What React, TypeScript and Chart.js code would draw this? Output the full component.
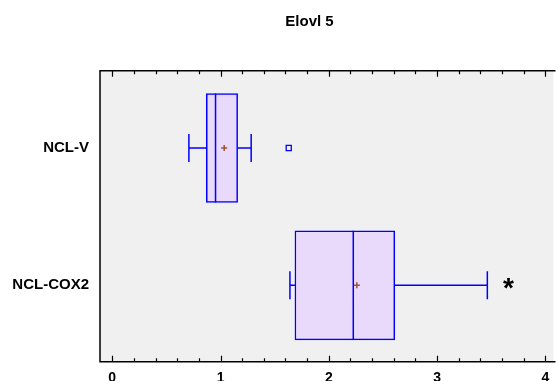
import React, { useEffect, useRef } from "react";
import { Chart, registerables } from "chart.js";

Chart.register(...registerables);

// ---- data ----
const title = "Elovl 5";
const categories = ["NCL-V", "NCL-COX2"];
const whiskerLow = [0.708, 1.641];
const q1 = [0.869, 1.687];
const median = [0.954, 2.226];
const q3 = [1.158, 2.609];
const whiskerHigh = [1.283, 3.464];
const means = [1.034, 2.259];
const outlierCat = [0];
const outlierValue = [1.63];
const farOutlierCat = [1];
const farOutlierValue = [3.66];
const xTicks = [0, 1, 2, 3, 4];
const xMinorStep = 0.2;

const BLUE = "#0000ff";
const FONT = "'Liberation Sans', Arial, sans-serif";

const boxPlugin = {
  id: "boxExtras",
  beforeDraw(chart: any) {
    const { ctx, chartArea: a } = chart;
    ctx.save();
    ctx.fillStyle = "#f0f0f0";
    ctx.fillRect(a.left, a.top, a.right - a.left, a.bottom - a.top);
    ctx.fillStyle = "#000";
    ctx.font = "bold 15px " + FONT;
    ctx.textAlign = "center";
    ctx.textBaseline = "middle";
    ctx.fillText(title, 309.5, 21.5);
    ctx.restore();
  },
  afterDatasetDraw(chart: any, args: any) {
    if (args.index !== 0) return;
    const { ctx } = chart;
    const xs = chart.scales.x;
    const ys = chart.scales.y;
    const cap = 14;
    const half = 54.5;
    ctx.save();
    ctx.strokeStyle = BLUE;
    ctx.lineWidth = 1.5;
    categories.forEach((_, i) => {
      const y = ys.getPixelForValue(i);
      const xl = xs.getPixelForValue(whiskerLow[i]);
      const x1 = xs.getPixelForValue(q1[i]);
      const x3 = xs.getPixelForValue(q3[i]);
      const xh = xs.getPixelForValue(whiskerHigh[i]);
      const xm = xs.getPixelForValue(median[i]);
      ctx.beginPath();
      ctx.moveTo(xl, y);
      ctx.lineTo(x1, y);
      ctx.moveTo(x3, y);
      ctx.lineTo(xh, y);
      ctx.moveTo(xl, y - cap);
      ctx.lineTo(xl, y + cap);
      ctx.moveTo(xh, y - cap);
      ctx.lineTo(xh, y + cap);
      ctx.moveTo(xm, y - half);
      ctx.lineTo(xm, y + half);
      ctx.stroke();
    });
    ctx.restore();
  },
  afterDraw(chart: any) {
    const { ctx, chartArea: a } = chart;
    const xs = chart.scales.x;
    ctx.save();
    ctx.fillStyle = "#000";
    ctx.font = "bold 28px " + FONT;
    ctx.textAlign = "center";
    ctx.textBaseline = "alphabetic";
    farOutlierCat.forEach((c, i) => {
      const x = xs.getPixelForValue(farOutlierValue[i]);
      const y = chart.scales.y.getPixelForValue(c);
      ctx.fillText("*", x, y + 12);
    });
    ctx.strokeStyle = "#000";
    ctx.lineWidth = 1.5;
    ctx.beginPath();
    ctx.moveTo(a.right + 2, a.top);
    ctx.lineTo(a.left, a.top);
    ctx.lineTo(a.left, a.bottom);
    ctx.lineTo(a.right + 2, a.bottom);
    ctx.stroke();
    ctx.lineWidth = 1.2;
    ctx.beginPath();
    const n = Math.round((xTicks[xTicks.length - 1] - xTicks[0]) / xMinorStep);
    for (let k = 0; k <= n; k++) {
      const v = xTicks[0] + k * xMinorStep;
      const major = k % 5 === 0;
      const len = major ? 6 : 3.5;
      const x = Math.round(xs.getPixelForValue(v)) + 0.5;
      ctx.moveTo(x, a.top);
      ctx.lineTo(x, a.top + len);
      ctx.moveTo(x, a.bottom);
      ctx.lineTo(x, a.bottom - len);
    }
    ctx.stroke();
    ctx.restore();
  },
};

export default function App() {
  const ref = useRef<HTMLCanvasElement | null>(null);

  useEffect(() => {
    document.body.style.margin = "0";
    document.body.style.overflow = "hidden";
    const canvas = ref.current;
    if (!canvas) return;
    Chart.defaults.font.family = FONT;
    const chart = new Chart(canvas, {
      type: "bar",
      data: {
        datasets: [
          {
            type: "bar",
            data: categories.map((_, i) => ({ y: i, x: [q1[i], q3[i]] })) as any,
            backgroundColor: "#e9d9fb",
            borderColor: BLUE,
            borderWidth: 1.5,
            borderSkipped: false,
            barThickness: 109,
            order: 2,
          } as any,
          {
            type: "scatter",
            data: means.map((m, i) => ({ x: m, y: i })),
            pointStyle: "cross",
            radius: 3,
            borderColor: "#a0522d",
            borderWidth: 1.5,
            order: 0,
          } as any,
          {
            type: "scatter",
            data: outlierValue.map((v, i) => ({ x: v, y: outlierCat[i] })),
            pointStyle: "rect",
            radius: 3.6,
            borderColor: BLUE,
            backgroundColor: "rgba(0,0,0,0)",
            borderWidth: 1.3,
            order: 0,
          } as any,
        ],
      },
      options: {
        animation: false,
        responsive: true,
        maintainAspectRatio: false,
        indexAxis: "y",
        layout: { padding: { left: 0, right: 0, top: 70.7, bottom: 0 } },
        plugins: {
          legend: { display: false },
          tooltip: { enabled: false },
          title: { display: false },
        },
        scales: {
          x: {
            type: "linear",
            offset: false,
            min: -0.113,
            max: 4.075,
            grid: { display: false, drawTicks: false },
            border: { display: false },
            afterBuildTicks: (s: any) => {
              s.ticks = xTicks.map((v) => ({ value: v }));
            },
            afterFit: (s: any) => {
              s.height = 19.3;
              s.paddingLeft = 0;
              s.paddingRight = 0;
            },
            ticks: {
              color: "#000",
              font: { size: 14, weight: "bold" },
              padding: 8,
              maxRotation: 0,
            },
          },
          y: {
            type: "linear",
            offset: false,
            reverse: true,
            min: -0.563,
            max: 1.556,
            grid: { display: false, drawTicks: false },
            border: { display: false },
            afterBuildTicks: (s: any) => {
              s.ticks = categories.map((_, i) => ({ value: i }));
            },
            afterFit: (s: any) => {
              s.width = 100;
              s.paddingTop = 0;
              s.paddingBottom = 0;
            },
            ticks: {
              color: "#000",
              font: { size: 15, weight: "bold" },
              padding: 11,
              callback: (v: any) => categories[v as number],
            },
          },
        },
      } as any,
      plugins: [boxPlugin],
    });
    return () => chart.destroy();
  }, []);

  return (
    <div style={{ width: 559, height: 381, position: "relative" }}>
      <canvas ref={ref} />
    </div>
  );
}
